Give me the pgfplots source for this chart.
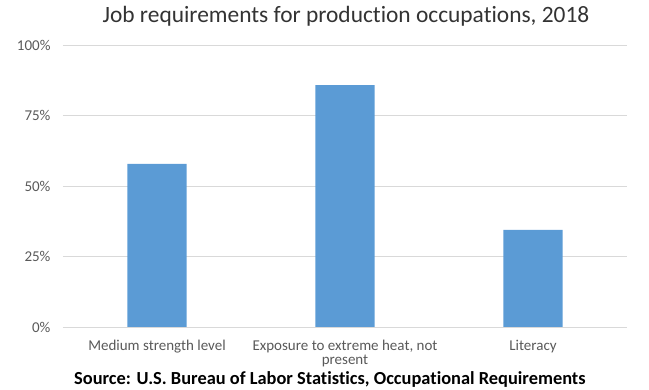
\documentclass[border=0pt]{standalone}
\usepackage{pgfplots}
\pgfplotsset{compat=1.18}
\usepackage{fontspec}
\setmainfont{Carlito}[Ligatures=NoCommon]
\definecolor{barblue}{HTML}{5B9BD5}
\definecolor{gridgray}{HTML}{D9D9D9}
\definecolor{labgray}{HTML}{595959}
\begin{document}
\begin{tikzpicture}[x=1pt,y=1pt]
\useasboundingbox (0,0) rectangle (649,390);
\begin{axis}[
  at={(63pt,63pt)}, anchor=south west,
  scale only axis, width=564pt, height=282pt,
  xmin=-0.5, xmax=2.5, ymin=0, ymax=100,
  ybar, bar width=59pt,
  xtick=data,
  xticklabels={Medium strength level, {Exposure to extreme heat, not\\present}, Literacy},
  ytick={0,25,50,75,100},
  yticklabels={0\%,25\%,50\%,75\%,100\%},
  ymajorgrids, grid style={gridgray, line width=0.8pt},
  axis line style={draw=none},
  major tick style={draw=none},
  x tick label style={align=center, font=\fontsize{15}{14.5}\selectfont, text=labgray, yshift=-5pt},
  y tick label style={font=\fontsize{15}{16}\selectfont, text=labgray, xshift=-9pt},
  clip=false,
]
\addplot[fill=barblue, draw=none] coordinates {(0,57.8) (1,85.8) (2,34.4)};
\end{axis}
\node[anchor=base, font=\fontsize{23.4}{26}\selectfont, text=black!80] at (346,367) {Job requirements for production occupations, 2018};
\node[anchor=base west, inner sep=0pt, font=\fontsize{18.4}{20}\selectfont\bfseries] at (74,5) {Source: U.S. Bureau of Labor Statistics, Occupational Requirements};
\end{tikzpicture}
\end{document}
